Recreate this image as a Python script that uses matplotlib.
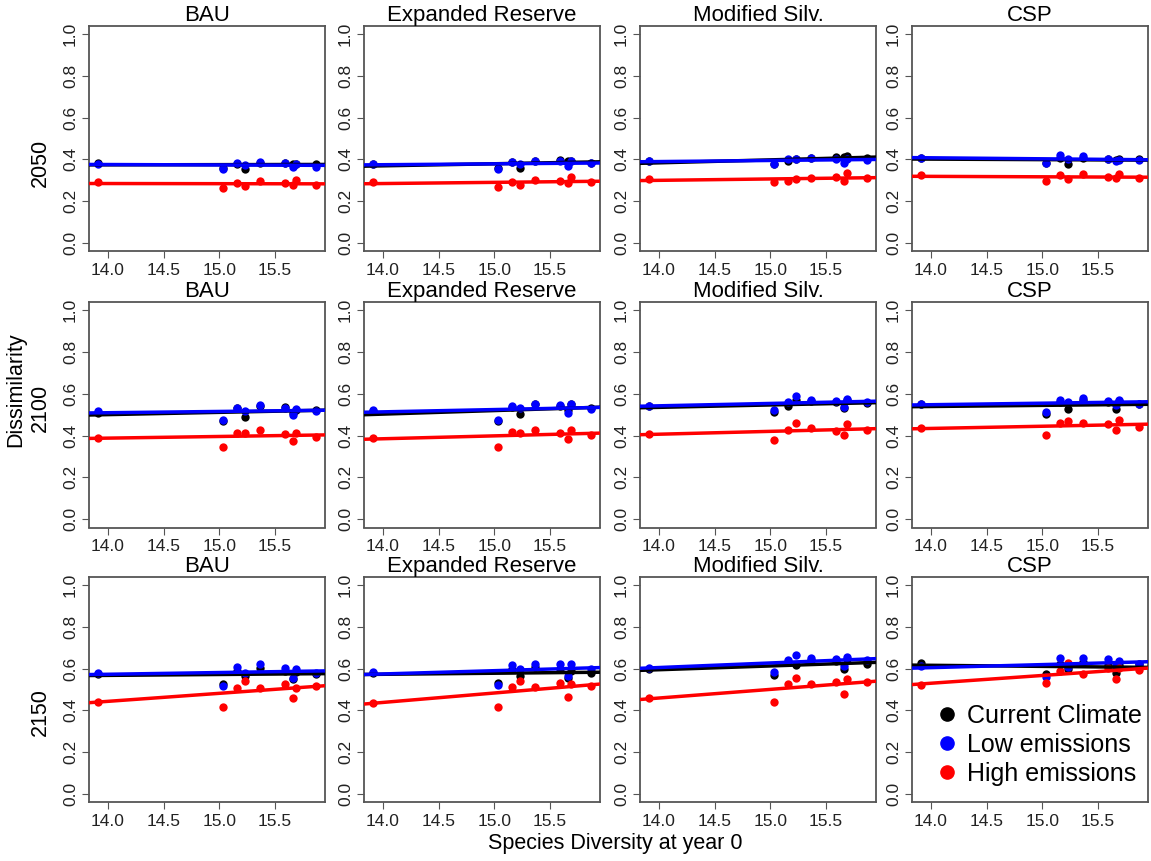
import numpy as np
import matplotlib
matplotlib.use("Agg")
import matplotlib.pyplot as plt
from matplotlib.lines import Line2D

plt.rcParams['font.family'] = ['Liberation Sans', 'DejaVu Sans']

# species diversity at year 0 (same for every panel)
diversity = [13.91, 15.03, 15.16, 15.23, 15.37, 15.59, 15.66, 15.69, 15.87]

scenarios = ["BAU", "Expanded Reserve", "Modified Silv.", "CSP"]
years = ["2050", "2100", "2150"]

# one list per scenario (BAU, Expanded Reserve, Modified Silv., CSP)
cur_2050 = [
    [0.381, 0.360, 0.380, 0.355, 0.385, 0.384, 0.376, 0.380, 0.376],
    [0.378, 0.357, 0.387, 0.360, 0.390, 0.397, 0.390, 0.394, 0.384],
    [0.390, 0.380, 0.394, 0.400, 0.405, 0.411, 0.413, 0.416, 0.406],
    [0.408, 0.385, 0.408, 0.378, 0.405, 0.403, 0.397, 0.400, 0.400],
]
low_2050 = [
    [0.376, 0.355, 0.384, 0.371, 0.387, 0.381, 0.363, 0.376, 0.363],
    [0.379, 0.355, 0.387, 0.376, 0.394, 0.390, 0.368, 0.390, 0.381],
    [0.390, 0.376, 0.403, 0.403, 0.408, 0.403, 0.384, 0.403, 0.397],
    [0.408, 0.381, 0.419, 0.403, 0.416, 0.403, 0.390, 0.397, 0.397],
]
high_2050 = [
    [0.291, 0.264, 0.288, 0.272, 0.296, 0.286, 0.277, 0.301, 0.278],
    [0.294, 0.267, 0.293, 0.277, 0.301, 0.299, 0.285, 0.317, 0.293],
    [0.307, 0.291, 0.299, 0.307, 0.312, 0.315, 0.299, 0.336, 0.309],
    [0.325, 0.296, 0.325, 0.304, 0.328, 0.317, 0.309, 0.330, 0.312],
]

cur_2100 = [
    [0.510, 0.470, 0.530, 0.488, 0.540, 0.536, 0.510, 0.520, 0.520],
    [0.515, 0.470, 0.535, 0.504, 0.550, 0.542, 0.520, 0.550, 0.530],
    [0.540, 0.512, 0.542, 0.570, 0.565, 0.560, 0.530, 0.570, 0.555],
    [0.550, 0.502, 0.560, 0.526, 0.570, 0.560, 0.528, 0.565, 0.550],
]
low_2100 = [
    [0.515, 0.472, 0.531, 0.515, 0.544, 0.531, 0.499, 0.526, 0.518],
    [0.520, 0.475, 0.539, 0.531, 0.552, 0.544, 0.507, 0.550, 0.526],
    [0.542, 0.520, 0.558, 0.587, 0.571, 0.563, 0.536, 0.574, 0.558],
    [0.552, 0.512, 0.571, 0.560, 0.579, 0.566, 0.546, 0.571, 0.552],
]
high_2100 = [
    [0.390, 0.347, 0.414, 0.414, 0.424, 0.406, 0.374, 0.414, 0.395],
    [0.390, 0.347, 0.416, 0.414, 0.424, 0.414, 0.384, 0.427, 0.403],
    [0.408, 0.379, 0.424, 0.459, 0.438, 0.422, 0.403, 0.456, 0.424],
    [0.435, 0.403, 0.462, 0.467, 0.462, 0.454, 0.427, 0.472, 0.443],
]

cur_2150 = [
    [0.575, 0.525, 0.590, 0.565, 0.605, 0.590, 0.549, 0.585, 0.573],
    [0.580, 0.533, 0.600, 0.565, 0.610, 0.600, 0.554, 0.590, 0.581],
    [0.600, 0.570, 0.630, 0.618, 0.640, 0.635, 0.597, 0.645, 0.624],
    [0.626, 0.576, 0.620, 0.600, 0.630, 0.615, 0.581, 0.615, 0.620],
]
low_2150 = [
    [0.581, 0.517, 0.608, 0.581, 0.621, 0.605, 0.557, 0.600, 0.581],
    [0.584, 0.522, 0.618, 0.597, 0.621, 0.621, 0.565, 0.624, 0.597],
    [0.605, 0.584, 0.640, 0.664, 0.650, 0.645, 0.613, 0.656, 0.640],
    [0.613, 0.562, 0.650, 0.608, 0.653, 0.648, 0.613, 0.637, 0.624],
]
high_2150 = [
    [0.442, 0.418, 0.509, 0.541, 0.509, 0.525, 0.461, 0.509, 0.517],
    [0.437, 0.416, 0.514, 0.541, 0.512, 0.533, 0.464, 0.528, 0.517],
    [0.458, 0.442, 0.528, 0.554, 0.528, 0.536, 0.477, 0.549, 0.536],
    [0.522, 0.533, 0.589, 0.626, 0.576, 0.605, 0.549, 0.603, 0.594],
]

current = [cur_2050, cur_2100, cur_2150]
low = [low_2050, low_2100, low_2150]
high = [high_2050, high_2100, high_2150]

series_names = ["Current Climate", "Low emissions", "High emissions"]
colors = ["black", "#0000ff", "#ff0000"]

W, H = 1151, 861
fig = plt.figure(figsize=(W / 100, H / 100), dpi=100)

lefts = [89, 364, 640, 912]
tops = [25.6, 301.7, 576.6]
pw, ph = 236, 225.8

x = np.array(diversity)
axes = []
for r in range(3):
    for c in range(4):
        ax = fig.add_axes([lefts[c] / W, 1 - (tops[r] + ph) / H, pw / W, ph / H])
        axes.append(ax)
        for vals, col in zip([current[r][c], low[r][c], high[r][c]], colors):
            y = np.array(vals)
            ax.scatter(x, y, s=36, color=col, zorder=3, linewidths=0)
            m, b = np.polyfit(x, y, 1)
            ax.axline((14.0, m * 14.0 + b), slope=m, color=col, lw=2.5, zorder=4)
        ax.set_xlim(13.83, 15.95)
        ax.set_ylim(-0.04, 1.04)
        ax.set_xticks([14.0, 14.5, 15.0, 15.5])
        ax.set_xticklabels(["14.0", "14.5", "15.0", "15.5"])
        ax.set_yticks([0.0, 0.2, 0.4, 0.6, 0.8, 1.0])
        ax.set_yticklabels(["0.0", "0.2", "0.4", "0.6", "0.8", "1.0"], rotation=90, va="center")
        ax.tick_params(axis="both", labelsize=12.5, length=5, width=0.8, direction="out",
                       colors="#555555", labelcolor="#222222", pad=3)
        for sp in ax.spines.values():
            sp.set_color("#555555")
            sp.set_linewidth(1.3)
        ax.set_title(scenarios[c], fontsize=16, pad=1)

# row labels
row_centers = [163, 408, 712]
for yr, yc in zip(years, row_centers):
    fig.text(40 / W, 1 - yc / H, yr, rotation=90, ha="center", va="center", fontsize=15.5)
fig.text(16 / W, 1 - 390 / H, "Dissimilarity", rotation=90,
         ha="center", va="center", fontsize=15.5)
fig.text(615 / W, 1 - 843 / H, "Species Diversity at year 0", ha="center", va="center",
         fontsize=15.5)

handles = [Line2D([], [], marker="o", ls="", color=col, markersize=9.5) for col in colors]
axes[-1].legend(handles, series_names, loc="upper left", bbox_to_anchor=(-0.005, 0.515),
                frameon=False, fontsize=18, handletextpad=0.05, labelspacing=0.2,
                borderaxespad=0.3, handlelength=1.5)

fig.savefig("out.png", dpi=100)
